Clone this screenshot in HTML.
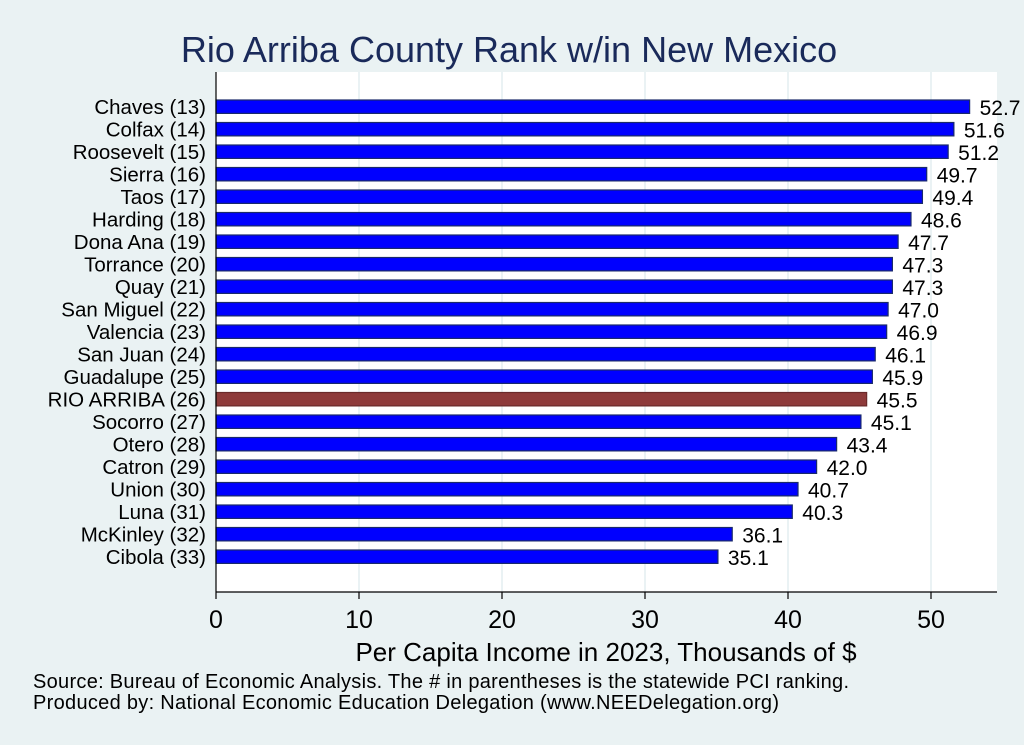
<!DOCTYPE html>
<html><head><meta charset="utf-8"><style>
body{margin:0;background:#eaf2f3;}
svg{display:block;font-family:"Liberation Sans",Arial,sans-serif;}
</style></head><body>
<svg id="chart" width="1024" height="745">
<rect x="0" y="0" width="1024" height="745" fill="#eaf2f3"/>
<text x="509" y="62" text-anchor="middle" font-size="36" fill="#1a2a5a">Rio Arriba County Rank w/in New Mexico</text>
<rect x="216" y="72" width="781" height="520" fill="#fff"/>
<g id="grid"></g>
<g id="bars"></g>
<line x1="216" y1="72" x2="216" y2="592" stroke="#000" stroke-width="1.2"/>
<line x1="216" y1="592" x2="997" y2="592" stroke="#000" stroke-width="1.2"/>
<g id="ticks"></g>
<text x="606" y="661" text-anchor="middle" font-size="26" fill="#000">Per Capita Income in 2023, Thousands of $</text>
<text x="33" y="688" font-size="20" fill="#000" textLength="816">Source: Bureau of Economic Analysis. The # in parentheses is the statewide PCI ranking.</text>
<text x="33" y="709" font-size="20" fill="#000" textLength="746">Produced by: National Economic Education Delegation (www.NEEDelegation.org)</text>
</svg>
<script>
const categories=["Chaves (13)","Colfax (14)","Roosevelt (15)","Sierra (16)","Taos (17)","Harding (18)","Dona Ana (19)","Torrance (20)","Quay (21)","San Miguel (22)","Valencia (23)","San Juan (24)","Guadalupe (25)","RIO ARRIBA (26)","Socorro (27)","Otero (28)","Catron (29)","Union (30)","Luna (31)","McKinley (32)","Cibola (33)"];
const values=[52.7,51.6,51.2,49.7,49.4,48.6,47.7,47.3,47.3,47.0,46.9,46.1,45.9,45.5,45.1,43.4,42.0,40.7,40.3,36.1,35.1];
const ticks=[0,10,20,30,40,50];
const highlight="RIO ARRIBA (26)";
const NS="http://www.w3.org/2000/svg";
const x=v=>216+v*14.3;
const y=i=>106.7+i*22.5;
function mk(t,a,p){const e=document.createElementNS(NS,t);for(const k in a)e.setAttribute(k,a[k]);p.appendChild(e);return e;}
const g=document.getElementById('grid'),b=document.getElementById('bars'),tk=document.getElementById('ticks');
ticks.forEach(t=>{
 if(t>0){const l=mk('line',{x1:x(t),x2:x(t),y1:72,y2:592,stroke:'#e3edf1','stroke-width':1.5},g);
 
 }
 const m=mk('line',{x1:x(t),x2:x(t),y1:592,y2:599,stroke:'#000','stroke-width':1.2},tk);
 
 
 const s=mk('text',{x:x(t),y:628,'text-anchor':'middle','font-size':25},tk);s.textContent=t;
 
 
});
categories.forEach((c,i)=>{
 const hi=c===highlight;
 const r=mk('rect',{x:216,y:y(i)-6.7,width:x(values[i])-216,height:13.4,fill:hi?'#8e3a3a':'#0000ff',stroke:hi?'#6a2a2a':'#1a2a6a','stroke-width':1.2},b);
 
 
 const l=mk('text',{x:206,y:y(i)+7.5,'text-anchor':'end','font-size':20.5},b);l.textContent=c;
 
 
 const v=mk('text',{x:x(values[i])+10,y:y(i)+8.5,'font-size':21},b);v.textContent=values[i].toFixed(1);
 
 
});
</script>
</body></html>
